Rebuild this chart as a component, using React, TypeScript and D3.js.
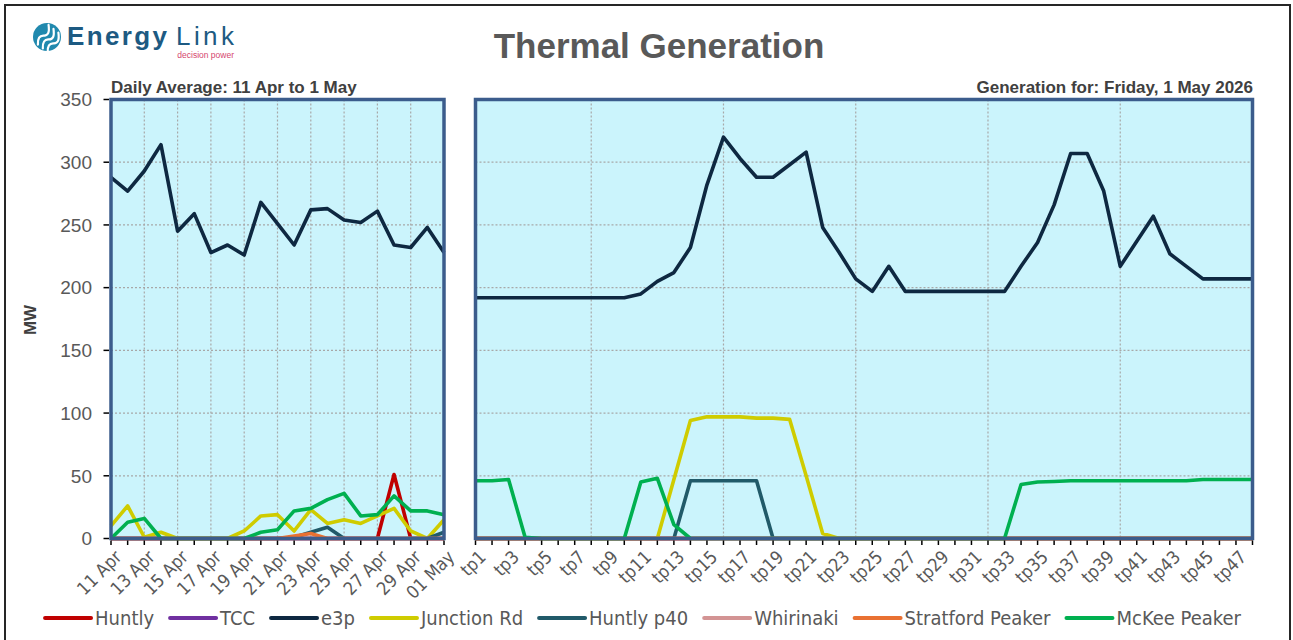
import React from 'react';
import * as d3 from 'd3';

// ---- data (MW) ----
const days = ['11 Apr', '12 Apr', '13 Apr', '14 Apr', '15 Apr', '16 Apr', '17 Apr', '18 Apr', '19 Apr', '20 Apr',
  '21 Apr', '22 Apr', '23 Apr', '24 Apr', '25 Apr', '26 Apr', '27 Apr', '28 Apr', '29 Apr', '30 Apr', '01 May'];

const huntlyDaily = [0, 0, 0, 0, 0, 0, 0, 0, 0, 0, 0, 0, 0, 0, 0, 0, 0, 51, 0, 0, 0];
const tccDaily = [0, 0, 0, 0, 0, 0, 0, 0, 0, 0, 0, 0, 0, 0, 0, 0, 0, 0, 0, 0, 0];
const e3pDaily = [288, 277, 293, 314, 245, 259, 228, 234, 226, 268, 251, 234, 262, 263, 254, 252, 261, 234, 232, 248, 228];
const junctionDaily = [10, 26, 1, 5, 0, 0, 0, 0, 6, 18, 19, 6, 23, 12, 15, 12, 18, 24, 6, 0, 15];
const p40Daily = [0, 0, 0, 0, 0, 0, 0, 0, 0, 0, 0, 1, 5, 9, 0, 0, 0, 0, 0, 0, 5];
const whirinakiDaily = [0, 0, 0, 0, 0, 0, 0, 0, 0, 0, 0, 0, 0, 0, 0, 0, 0, 0, 0, 0, 0];
const stratfordDaily = [0, 0, 0, 0, 0, 0, 0, 0, 0, 0, 0, 2, 4, 0, 0, 0, 0, 0, 0, 0, 0];
const mckeeDaily = [0, 13, 16, 0, 0, 0, 0, 0, 0, 5, 7, 22, 24, 31, 36, 18, 19, 34, 22, 22, 19];

const periods = ['tp1', 'tp2', 'tp3', 'tp4', 'tp5', 'tp6', 'tp7', 'tp8', 'tp9', 'tp10', 'tp11', 'tp12',
  'tp13', 'tp14', 'tp15', 'tp16', 'tp17', 'tp18', 'tp19', 'tp20', 'tp21', 'tp22', 'tp23', 'tp24',
  'tp25', 'tp26', 'tp27', 'tp28', 'tp29', 'tp30', 'tp31', 'tp32', 'tp33', 'tp34', 'tp35', 'tp36',
  'tp37', 'tp38', 'tp39', 'tp40', 'tp41', 'tp42', 'tp43', 'tp44', 'tp45', 'tp46', 'tp47', 'tp48'];

const huntlyTp = [0, 0, 0, 0, 0, 0, 0, 0, 0, 0, 0, 0, 0, 0, 0, 0, 0, 0, 0, 0, 0, 0, 0, 0,
  0, 0, 0, 0, 0, 0, 0, 0, 0, 0, 0, 0, 0, 0, 0, 0, 0, 0, 0, 0, 0, 0, 0, 0];
const tccTp = [0, 0, 0, 0, 0, 0, 0, 0, 0, 0, 0, 0, 0, 0, 0, 0, 0, 0, 0, 0, 0, 0, 0, 0,
  0, 0, 0, 0, 0, 0, 0, 0, 0, 0, 0, 0, 0, 0, 0, 0, 0, 0, 0, 0, 0, 0, 0, 0];
const e3pTp = [192, 192, 192, 192, 192, 192, 192, 192, 192, 192, 195, 205, 212, 232, 282, 320, 303, 288, 288, 298, 308, 248, 228, 207,
  197, 217, 197, 197, 197, 197, 197, 197, 197, 217, 236, 266, 307, 307, 277, 217, 237, 257, 227, 217, 207, 207, 207, 207];
const junctionTp = [0, 0, 0, 0, 0, 0, 0, 0, 0, 0, 0, 0, 47, 94, 97, 97, 97, 96, 96, 95, 50, 4, 0, 0,
  0, 0, 0, 0, 0, 0, 0, 0, 0, 0, 0, 0, 0, 0, 0, 0, 0, 0, 0, 0, 0, 0, 0, 0];
const p40Tp = [0, 0, 0, 0, 0, 0, 0, 0, 0, 0, 0, 0, 0, 46, 46, 46, 46, 46, 0, 0, 0, 0, 0, 0,
  0, 0, 0, 0, 0, 0, 0, 0, 0, 0, 0, 0, 0, 0, 0, 0, 0, 0, 0, 0, 0, 0, 0, 0];
const whirinakiTp = [0, 0, 0, 0, 0, 0, 0, 0, 0, 0, 0, 0, 0, 0, 0, 0, 0, 0, 0, 0, 0, 0, 0, 0,
  0, 0, 0, 0, 0, 0, 0, 0, 0, 0, 0, 0, 0, 0, 0, 0, 0, 0, 0, 0, 0, 0, 0, 0];
const stratfordTp = [0, 0, 0, 0, 0, 0, 0, 0, 0, 0, 0, 0, 0, 0, 0, 0, 0, 0, 0, 0, 0, 0, 0, 0,
  0, 0, 0, 0, 0, 0, 0, 0, 0, 0, 0, 0, 0, 0, 0, 0, 0, 0, 0, 0, 0, 0, 0, 0];
const mckeeTp = [46, 46, 47, 1, 0, 0, 0, 0, 0, 0, 45, 48, 11, 0, 0, 0, 0, 0, 0, 0, 0, 0, 0, 0,
  0, 0, 0, 0, 0, 0, 0, 0, 0, 43, 45, 45.5, 46, 46, 46, 46, 46, 46, 46, 46, 47, 47, 47, 47];

const seriesNames = ['Huntly', 'TCC', 'e3p', 'Junction Rd', 'Huntly p40', 'Whirinaki', 'Stratford Peaker', 'McKee Peaker'];
const seriesColors = ['#C00000', '#7030A0', '#0E2841', '#CFCC00', '#215A69', '#D39494', '#E97132', '#00B050'];
const dailySeries = [huntlyDaily, tccDaily, e3pDaily, junctionDaily, p40Daily, whirinakiDaily, stratfordDaily, mckeeDaily];
const tpSeries = [huntlyTp, tccTp, e3pTp, junctionTp, p40Tp, whirinakiTp, stratfordTp, mckeeTp];

const yTicks = [0, 50, 100, 150, 200, 250, 300, 350];

const FONT = "'Liberation Sans', Arial, sans-serif";
const NARROW = "'Liberation Sans Narrow', 'Arial Narrow', 'DejaVu Sans Condensed', sans-serif";
const BORDER = '#3B5C8C';
const PANEL_BG = '#CBF4FC';

let ctx: CanvasRenderingContext2D | null = null;
function measure(text: string, font: string) {
  if (!ctx) ctx = document.createElement('canvas').getContext('2d');
  if (!ctx) return text.length * 9;
  ctx.font = font;
  return ctx.measureText(text).width;
}

const y = d3.scaleLinear().domain([0, 350]).range([538.5, 99.5]);

function Panel({ cats, series, x0, x1, gridIdx, labelIdx }: {
  cats: string[]; series: number[][]; x0: number; x1: number; gridIdx: number[]; labelIdx: number[];
}) {
  const x = d3.scalePoint<string>().domain(cats).range([x0, x1]);
  const line = d3.line<number>().x((_, i) => x(cats[i]) as number).y(d => y(d));
  return (
    <g>
      <rect x={x0} y={y(350)} width={x1 - x0} height={y(0) - y(350)} fill={PANEL_BG} />
      {yTicks.slice(1, -1).map(t => (
        <line key={t} x1={x0} x2={x1} y1={y(t)} y2={y(t)} stroke="#A8A8A8" strokeWidth={1.2} strokeDasharray="2,2" />
      ))}
      {gridIdx.map(i => (
        <line key={i} x1={x(cats[i])} x2={x(cats[i])} y1={y(350)} y2={y(0)} stroke="#A8A8A8" strokeWidth={1.2} strokeDasharray="2,2" />
      ))}
      {series.map((s, k) => (
        <path key={k} d={line(s) || ''} fill="none" stroke={seriesColors[k]} strokeWidth={3.6} strokeLinejoin="round" />
      ))}
      <rect x={x0} y={y(350)} width={x1 - x0} height={y(0) - y(350)} fill="none" stroke={BORDER} strokeWidth={3.5} />
      {cats.map(c => (
        <line key={c} x1={x(c)} x2={x(c)} y1={y(0) + 2} y2={y(0) + 6.5} stroke="#000" strokeWidth={1.5} />
      ))}
      {labelIdx.map(i => (
        <text key={i} transform={`translate(${(x(cats[i]) as number) + 2},${y(0) + 10}) rotate(-45)`}
          textAnchor="end" dominantBaseline="hanging" fontFamily={NARROW} fontSize={18} fill="#595959">
          {cats[i]}
        </text>
      ))}
    </g>
  );
}

function Legend() {
  const fs = 20;
  const font = `${fs}px ${NARROW}`;
  const lineW = 46, gapText = 4, gapItem = 16;
  const widths = seriesNames.map(n => measure(n, font));
  const total = widths.reduce((a, w) => a + lineW + gapText + w, 0) + gapItem * (seriesNames.length - 1);
  let cx = 643 - total / 2;
  const items = seriesNames.map((n, i) => {
    const start = cx;
    cx += lineW + gapText + widths[i] + gapItem;
    return { n, i, start };
  });
  return (
    <g>
      {items.map(({ n, i, start }) => (
        <g key={n}>
          <line x1={start} x2={start + lineW} y1={618} y2={618} stroke={seriesColors[i]} strokeWidth={4} strokeLinecap="round" />
          <text x={start + lineW + gapText} y={618} dy="0.36em" fontFamily={NARROW} fontSize={fs} fill="#595959">{n}</text>
        </g>
      ))}
    </g>
  );
}

function Logo() {
  return (
    <g>
      <circle cx={47} cy={37} r={14} fill="#2189AE" />
      {[-6, 0, 6].map(o => (
        <path key={o} d={`M ${37 + o * 0.3} ${44 + o} q 5 -8 10 -4 t 10 -6`} transform={`rotate(-35 47 37)`}
          fill="none" stroke="#fff" strokeWidth={2.2} strokeLinecap="round" />
      ))}
      <text x={67} y={45} fontFamily={FONT} fontSize={26} fontWeight={600} fill="#1D5A82" textLength={100}>Energy</text>
      <text x={176} y={45} fontFamily={FONT} fontSize={26} fill="#1D5A82" textLength={58}>Link</text>
      <text x={234} y={58} fontFamily={FONT} fontSize={8.5} fill="#D5466E" textAnchor="end">decision power</text>
    </g>
  );
}

export default function App() {
  const dayLabels = days.map((_, i) => i).filter(i => i % 2 === 0);
  const dayGrid = days.map((_, i) => i).filter(i => i % 2 === 0 && i > 0 && i < days.length - 1);
  const tpLabels = periods.map((_, i) => i).filter(i => i % 2 === 0);
  const tpGrid = periods.map((_, i) => i).filter(i => (i + 1) % 8 === 0 && i < periods.length - 1);
  return (
    <svg width={1293} height={640} style={{ position: 'absolute', left: 0, top: 0, background: '#fff' }}>
      <rect x={5} y={5} width={1285} height={650} fill="#fff" stroke="#262626" strokeWidth={2} />
      <Logo />
      <text x={659} y={58} textAnchor="middle" fontFamily={FONT} fontSize={35} fontWeight="bold" fill="#595959">Thermal Generation</text>
      <text x={111} y={93} fontFamily={FONT} fontSize={17} fontWeight="bold" fill="#404040">Daily Average: 11 Apr to 1 May</text>
      <text x={1253} y={93} textAnchor="end" fontFamily={FONT} fontSize={17} fontWeight="bold" fill="#404040">Generation for: Friday, 1 May 2026</text>

      {yTicks.map(t => (
        <g key={t}>
          <line x1={103.5} x2={109} y1={y(t)} y2={y(t)} stroke="#000" strokeWidth={1.5} />
          <text x={92} y={y(t)} dy="0.36em" textAnchor="end" fontFamily={FONT} fontSize={19} fill="#595959">{t}</text>
        </g>
      ))}
      <text transform="translate(36,320) rotate(-90)" textAnchor="middle" fontFamily={FONT} fontSize={17} fontWeight="bold" fill="#404040">MW</text>

      <Panel cats={days} series={dailySeries} x0={111} x1={444} gridIdx={dayGrid} labelIdx={dayLabels} />
      <Panel cats={periods} series={tpSeries} x0={475.5} x1={1252.5} gridIdx={tpGrid} labelIdx={tpLabels} />
      <Legend />
    </svg>
  );
}
